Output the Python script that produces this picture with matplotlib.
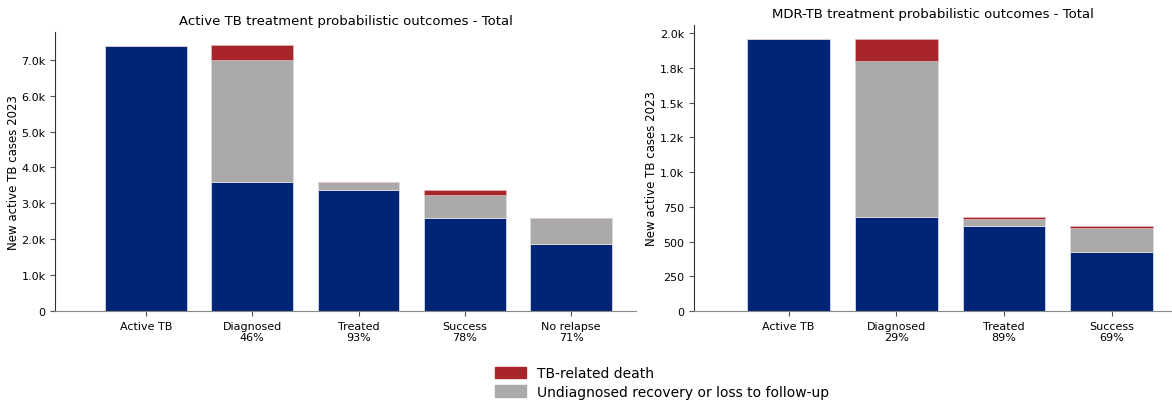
import matplotlib
matplotlib.use("Agg")
import matplotlib.pyplot as plt
import matplotlib.ticker as mticker
from matplotlib.patches import Patch

# data
tb_labels = ["Active TB", "Diagnosed\n46%", "Treated\n93%", "Success\n78%", "No relapse\n71%"]
tb_blue = [7390, 3600, 3370, 2600, 1870]
tb_gray = [0, 3400, 215, 630, 730]
tb_red = [0, 400, 20, 140, 0]

mdr_labels = ["Active TB", "Diagnosed\n29%", "Treated\n89%", "Success\n69%"]
mdr_blue = [1962, 675, 610, 425]
mdr_gray = [0, 1123, 53, 175]
mdr_red = [0, 164, 12, 10]

BLUE = "#002577"
GRAY = "#aaaaaa"
RED = "#a8262a"


def kfmt(x, pos):
    if x >= 1000:
        return f"{x/1000:.1f}k"
    return f"{x:.0f}"


def draw(ax, labels, blue, gray, red, title, xlim):
    x = list(range(len(labels)))
    b2 = [b + g for b, g in zip(blue, gray)]
    ax.bar(x, blue, width=0.77, color=BLUE, edgecolor="#d8dcea", linewidth=0.6)
    ax.bar(x, gray, bottom=blue, width=0.77, color=GRAY, edgecolor="#dddddd", linewidth=0.6)
    ax.bar(x, red, bottom=b2, width=0.77, color=RED, edgecolor="#e0c0c0", linewidth=0.4)
    ax.set_xticks(x)
    ax.set_xticklabels(labels, fontsize=8)
    ax.set_xlim(*xlim)
    # zero-height bars pin the autoscale, so set the 5% headroom by hand
    top = max(b + r for b, r in zip(b2, red))
    ax.set_ylim(0, top * 1.05)
    ax.yaxis.set_major_formatter(mticker.FuncFormatter(kfmt))
    ax.tick_params(axis="y", labelsize=8)
    ax.tick_params(color="#555555")
    ax.set_ylabel("New active TB cases 2023", fontsize=8.5, labelpad=1)
    ax.set_title(title, fontsize=9.5)
    ax.spines["top"].set_visible(False)
    ax.spines["right"].set_visible(False)
    ax.spines["left"].set_color("#333333")
    ax.spines["bottom"].set_color("#888888")


fig = plt.figure(figsize=(11.72, 4.10), dpi=100)
ax1 = fig.add_axes([0.0473, 0.239, 0.4954, 0.680])
ax2 = fig.add_axes([0.592, 0.239, 0.408, 0.6976])

draw(ax1, tb_labels, tb_blue, tb_gray, tb_red,
     "Active TB treatment probabilistic outcomes - Total", (-0.85, 4.61))
draw(ax2, mdr_labels, mdr_blue, mdr_gray, mdr_red,
     "MDR-TB treatment probabilistic outcomes - Total", (-0.88, 3.56))

handles = [Patch(color=RED, label="TB-related death"),
           Patch(color=GRAY, label="Undiagnosed recovery or loss to follow-up")]
fig.legend(handles=handles, loc="lower center", bbox_to_anchor=(0.565, -0.005),
           frameon=False, fontsize=10, handlelength=2.2, handleheight=0.9,
           labelspacing=0.3)

fig.savefig("out.png", dpi=100)
